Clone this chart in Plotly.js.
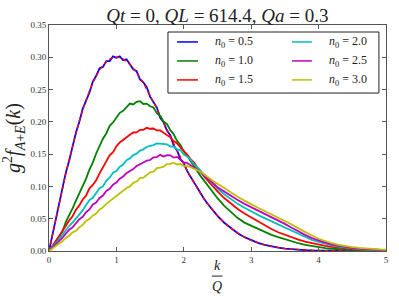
<!DOCTYPE html>
<html>
<head>
<meta charset="utf-8">
<script src="https://cdn.plot.ly/plotly-3.0.1.min.js"></script>
<style>
html,body{margin:0;padding:0;background:#fff;}
#chart{width:399px;height:299px;}
</style>
</head>
<body>
<div id="chart"></div>
<script>
// k/Q grid (fine where the histogram is noisy, coarser in the smooth tail)
const kOverQ = [0,0.05,0.1,0.15,0.2,0.25,0.3,0.35,0.4,0.45,0.5,0.55,0.6,0.65,0.7,0.75,0.8,0.85,0.9,0.95,
  1.0,1.05,1.1,1.15,1.2,1.25,1.3,1.35,1.4,1.45,1.5,1.55,1.6,1.65,1.7,1.75,1.8,1.85,1.9,1.95,
  2.0,2.05,2.1,2.15,2.2,2.25,2.3,2.35,2.4,2.45,2.5,
  2.6,2.7,2.8,2.9,3.0,3.1,3.2,3.3,3.4,3.5,3.6,3.7,3.8,3.9,4.0,4.1,4.2,4.3,4.4,4.5,4.6,4.7,4.8,4.9,5.0];

const n0Labels = ['0.5','1.0','1.5','2.0','2.5','3.0'];

// simulated g^2 f_{A+E}(k)
const f_n05 = [0,0.0250,0.0487,0.0740,0.0967,0.1217,0.1402,0.1636,0.1834,0.2001,0.2202,0.2330,0.2450,0.2625,0.2713,0.2832,0.2851,0.2942,0.2942,0.3015,
  0.2992,0.3015,0.2954,0.2969,0.2881,0.2813,0.2785,0.2656,0.2611,0.2539,0.2391,0.2308,0.2222,0.2063,0.1993,0.1864,0.1793,0.1634,0.1557,0.1422,
  0.1360,0.1236,0.1151,0.1045,0.0973,0.0881,0.0810,0.0735,0.0665,0.0605,0.0544,
  0.0438,0.0349,0.0275,0.0214,0.0165,0.0126,0.0095,0.0071,0.0052,0.0038,0.0027,0.0019,0.0013,0.0009,0.0007,0.0004,0.0003,0.0002,0.0001,0.0001,0,0,0,0,0];
const f_n10 = [0,0.0063,0.0142,0.0230,0.0305,0.0450,0.0550,0.0660,0.0780,0.0890,0.1010,0.1120,0.1260,0.1370,0.1510,0.1620,0.1740,0.1820,0.1940,0.1990,
  0.2060,0.2140,0.2170,0.2230,0.2283,0.2270,0.2310,0.2320,0.2277,0.2283,0.2242,0.2223,0.2135,0.2093,0.2005,0.1965,0.1872,0.1808,0.1705,0.1643,
  0.1542,0.1474,0.1390,0.1306,0.1234,0.1160,0.1090,0.1027,0.0957,0.0893,0.0818,
  0.070,0.060,0.051,0.044,0.039,0.034,0.029,0.025,0.0215,0.018,0.0148,0.012,0.0095,0.0075,0.006,0.0046,0.0035,0.0027,0.002,0.0015,0.0011,0.0008,0.0006,0.0004,0.0003];
const f_n15 = [0,0.0069,0.0154,0.0230,0.0316,0.0382,0.0474,0.0538,0.0638,0.0706,0.0798,0.0857,0.0970,0.1023,0.1097,0.1203,0.1300,0.1390,0.1480,0.1530,
  0.1620,0.1680,0.1720,0.1770,0.1800,0.1835,0.1837,0.1877,0.1877,0.1908,0.1893,0.1897,0.1867,0.1867,0.1833,0.1807,0.1760,0.1703,0.1667,0.1605,
  0.1550,0.1493,0.1423,0.1372,0.1296,0.1240,0.1156,0.1097,0.1033,0.0972,0.0924,
  0.082,0.073,0.065,0.058,0.052,0.045,0.039,0.034,0.029,0.025,0.021,0.0175,0.0145,0.012,0.0098,0.008,0.0064,0.005,0.004,0.003,0.0023,0.0017,0.0013,0.001,0.0007];
const f_n20 = [0,0.0055,0.0124,0.0183,0.0254,0.0308,0.0391,0.0441,0.0503,0.0582,0.0629,0.0711,0.0788,0.0823,0.0900,0.0972,0.1002,0.1086,0.1134,0.1213,
  0.1238,0.1306,0.1338,0.1407,0.1434,0.1486,0.1508,0.1556,0.1574,0.1611,0.1630,0.1639,0.1666,0.1662,0.1660,0.1653,0.1618,0.1617,0.1574,0.1563,
  0.1492,0.1463,0.1416,0.1344,0.1299,0.1232,0.1176,0.1128,0.1070,0.1024,0.0967,
  0.088,0.080,0.073,0.067,0.061,0.056,0.051,0.046,0.041,0.036,0.031,0.026,0.021,0.017,0.014,0.011,0.0088,0.0068,0.0052,0.004,0.003,0.0023,0.0017,0.0013,0.001];
const f_n25 = [0,0.0050,0.0101,0.0162,0.0205,0.0269,0.0330,0.0368,0.0430,0.0492,0.0530,0.0601,0.0644,0.0722,0.0749,0.0821,0.0859,0.0931,0.0964,0.1026,
  0.1059,0.1121,0.1154,0.1206,0.1240,0.1269,0.1316,0.1340,0.1370,0.1401,0.1409,0.1451,0.1454,0.1489,0.1463,0.1483,0.1481,0.1446,0.1457,0.1411,
  0.1373,0.1366,0.1330,0.1304,0.1254,0.1218,0.1166,0.1127,0.1079,0.1037,0.0988,
  0.092,0.085,0.079,0.073,0.068,0.062,0.057,0.052,0.047,0.042,0.036,0.030,0.025,0.020,0.016,0.013,0.010,0.008,0.006,0.0047,0.0036,0.0028,0.0021,0.0016,0.0012];
const f_n30 = [0,0.0037,0.0080,0.0123,0.0155,0.0203,0.0237,0.0289,0.0314,0.0368,0.0404,0.0465,0.0495,0.0550,0.0580,0.0640,0.0675,0.0730,0.0770,0.0805,
  0.0855,0.0890,0.0930,0.0975,0.1000,0.1055,0.1075,0.1130,0.1135,0.1185,0.1220,0.1230,0.1285,0.1290,0.1305,0.1347,0.1350,0.1368,0.1340,0.1347,
  0.1315,0.1322,0.1297,0.1282,0.1245,0.1228,0.1189,0.1148,0.1112,0.1072,0.1041,
  0.097,0.090,0.084,0.078,0.072,0.067,0.062,0.057,0.052,0.047,0.041,0.035,0.029,0.024,0.019,0.015,0.012,0.0095,0.0075,0.006,0.0047,0.0037,0.003,0.0024,0.0019];
// analytic curve for n0 = 0.5 (red dashed)
const theory_n05 = [0,0.0247,0.0493,0.0734,0.0970,0.1199,0.1420,0.1630,0.1822,0.2013,0.2184,0.2340,0.2480,0.2605,0.2713,0.2802,0.2871,0.2932,0.2972,0.2995,
  0.3002,0.2995,0.2974,0.2939,0.2891,0.2833,0.2765,0.2686,0.2601,0.2509,0.2411,0.2308,0.2202,0.2093,0.1983,0.1874,0.1763,0.1654,0.1547,0.1442,
  0.1340,0.1241,0.1146,0.1055,0.0968,0.0886,0.0808,0.0735,0.0667,0.0603,0.0544,
  0.0438,0.0349,0.0275,0.0214,0.0165,0.0126,0.0095,0.0071,0.0052,0.0038,0.0027,0.0019,0.0013,0.0009,0.0007,0.0004,0.0003,0.0002,0.0001,0.0001,0,0,0,0,0];

const series = [f_n05, f_n10, f_n15, f_n20, f_n25, f_n30];
const colors = ['#0000ff','#008000','#ff0000','#00bfbf','#bf00bf','#bfbf00'];
const serif = 'Liberation Serif';
const ink = '#222';

const traces = [];
series.forEach((ys, i) => {
  traces.push({
    x: kOverQ, y: ys, type: 'scatter', mode: 'lines',
    line: {color: colors[i], width: 1.8},
    name: 'n0 = ' + n0Labels[i],
    showlegend: false
  });
  if (i === 0) {
    traces.push({
      x: kOverQ, y: theory_n05, type: 'scatter', mode: 'lines',
      line: {color: '#ff0000', width: 1.4, dash: '4px,3px'},
      showlegend: false, hoverinfo: 'skip'
    });
  }
});

// legend box drawn in paper coordinates: two columns of three entries
const legendBox = {x0: 0.353, x1: 0.979, y0: 0.699, y1: 0.969};
const legendRows = [0.925, 0.841, 0.757];
const legendCols = [{k0: 0.380, k1: 0.442, t: 0.487}, {k0: 0.721, k1: 0.780, t: 0.825}];

const shapes = [
  {type: 'rect', xref: 'paper', yref: 'paper', x0: legendBox.x0, x1: legendBox.x1, y0: legendBox.y0, y1: legendBox.y1,
   line: {color: ink, width: 1}, fillcolor: '#fff', layer: 'above'},
  {type: 'line', xref: 'paper', yref: 'paper', x0: 0.483, x1: 0.515, y0: -0.111, y1: -0.111,
   line: {color: ink, width: 1}}
];
const annotations = [
  {text: '<i>k</i>', xref: 'paper', yref: 'paper', x: 0.499, y: -0.108, yanchor: 'bottom', xanchor: 'center', showarrow: false,
   font: {family: serif, size: 14, color: ink}},
  {text: '<i>Q</i>', xref: 'paper', yref: 'paper', x: 0.499, y: -0.114, yanchor: 'top', xanchor: 'center', showarrow: false,
   font: {family: serif, size: 14, color: ink}}
];
n0Labels.forEach((lab, i) => {
  const c = legendCols[i < 3 ? 0 : 1];
  const yv = legendRows[i % 3];
  shapes.push({type: 'line', xref: 'paper', yref: 'paper', x0: c.k0, x1: c.k1, y0: yv, y1: yv,
               line: {color: colors[i], width: 1.5}, layer: 'above'});
  annotations.push({text: '<i>n</i><sub>0</sub> = ' + lab, xref: 'paper', yref: 'paper', x: c.t, y: yv,
               xanchor: 'left', yanchor: 'middle', showarrow: false,
               font: {family: serif, size: 12, color: ink}});
});

const axisCommon = {
  showline: true, linecolor: '#555', linewidth: 1, mirror: 'allticks',
  ticks: 'inside', ticklen: 4, tickcolor: '#555', showgrid: false, zeroline: false,
  tickfont: {family: serif, size: 9, color: '#333'}
};

const layout = {
  width: 399, height: 299,
  margin: {l: 49, r: 13, t: 25, b: 48},
  paper_bgcolor: '#fff', plot_bgcolor: '#fff',
  font: {family: serif},
  title: {text: '<i>Qt</i> = 0, <i>QL</i> = 614.4, <i>Qa</i> = 0.3', x: 0.545, xanchor: 'center', y: 0.95, yanchor: 'middle',
          font: {family: serif, size: 19, color: ink}},
  xaxis: Object.assign({}, axisCommon, {range: [0, 5], tickvals: [0,1,2,3,4,5], ticktext: ['0','1','2','3','4','5']}),
  yaxis: Object.assign({}, axisCommon, {range: [0, 0.35], tickvals: [0,0.05,0.1,0.15,0.2,0.25,0.3,0.35], tickformat: '.2f',
          title: {text: '<i>g</i><sup>2</sup><i>f</i><sub><i>A</i>+<i>E</i></sub>(<i>k</i>)', standoff: 5, font: {family: serif, size: 20, color: ink}}}),
  shapes: shapes,
  annotations: annotations,
  showlegend: false
};

Plotly.newPlot('chart', traces, layout, {displayModeBar: false, staticPlot: true});
</script>
</body>
</html>
